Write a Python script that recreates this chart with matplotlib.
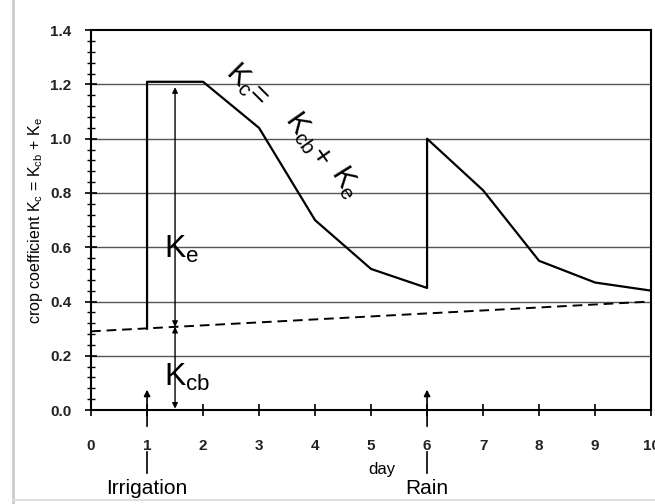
import matplotlib
matplotlib.use("Agg")
import matplotlib.pyplot as plt
import numpy as np

plt.rcParams['font.family'] = ['Liberation Sans', 'DejaVu Sans']

# Kc curve
kc_day = [1, 1, 2, 3, 4, 5, 6, 6, 7, 8, 9, 10]
kc_val = [0.30, 1.21, 1.21, 1.04, 0.70, 0.52, 0.45, 1.00, 0.81, 0.55, 0.47, 0.44]
# Kcb line
kcb_day = [0, 10]
kcb_val = [0.29, 0.40]

xticks = list(range(0, 11))
yticks = [0.0, 0.2, 0.4, 0.6, 0.8, 1.0, 1.2, 1.4]

fig = plt.figure(figsize=(6.55, 5.04), dpi=100)
ax = fig.add_axes([0.139, 0.1865, 0.855, 0.7535])
ax.set_xlim(0, 10)
ax.set_ylim(0, 1.4)

for y in yticks[1:-1]:
    ax.axhline(y, color='#555555', lw=1.0, zorder=1)

ax.plot(kc_day, kc_val, color='black', lw=1.6, zorder=3)
ax.plot(kcb_day, kcb_val, color='black', lw=1.4, ls=(0, (5, 3)), zorder=3)

ax.set_xticks(xticks)
ax.set_yticks(yticks)
ax.set_yticklabels([f"{v:.1f}" for v in yticks])
ax.set_yticks(np.arange(0, 1.41, 0.04), minor=True)
ax.tick_params(axis='both', direction='inout', length=8, width=1.2, labelsize=11)
ax.tick_params(axis='y', which='minor', direction='inout', length=6, width=1.0)
ax.tick_params(axis='x', pad=17)
ax.tick_params(axis='y', pad=10)
for lbl in ax.get_xticklabels() + ax.get_yticklabels():
    lbl.set_fontweight('bold')
    lbl.set_color('#222222')
for s in ax.spines.values():
    s.set_linewidth(1.5)

ax.set_ylabel("crop coefficient K$_\\mathregular{c}$ = K$_\\mathregular{cb}$ + K$_\\mathregular{e}$",
              fontsize=11.5, labelpad=4)

# arrows at x=1.5
kcb15 = 0.29 + 0.011 * 1.5
aprops = dict(arrowstyle='<|-|>', color='black', lw=1.0, mutation_scale=8, shrinkA=0, shrinkB=0)
ax.annotate('', xy=(1.5, 1.19), xytext=(1.5, kcb15), arrowprops=aprops)
ax.annotate('', xy=(1.5, 0.005), xytext=(1.5, kcb15), arrowprops=aprops)

ax.text(1.3, 0.56, "K$_\\mathregular{e}$", fontsize=23)
ax.text(1.3, 0.09, "K$_\\mathregular{cb}$", fontsize=23)

# Kc = Kcb + Ke label
ax.text(2.78, 1.20, "K$_\\mathregular{c}$=", fontsize=21, rotation=-45,
        ha='center', va='center', rotation_mode='anchor')
ax.text(3.88, 1.00, "K$_\\mathregular{cb}$+", fontsize=21, rotation=-55,
        ha='center', va='center', rotation_mode='anchor')
ax.text(4.55, 0.84, "K$_\\mathregular{e}$", fontsize=21, rotation=-58,
        ha='center', va='center', rotation_mode='anchor')

# Irrigation / Rain
for xd, lab in [(1, "Irrigation"), (6, "Rain")]:
    ax.annotate('', xy=(xd, 0.075), xytext=(xd, -0.06),
                arrowprops=dict(arrowstyle='-|>', color='black', lw=1.2,
                                mutation_scale=9, shrinkA=0, shrinkB=0),
                annotation_clip=False)
    ax.plot([xd, xd], [-0.155, -0.232], color='black', lw=1.2, clip_on=False)
    ax.text(xd, -0.29, lab, ha='center', va='center', fontsize=15)

ax.text(5.2, -0.22, "day", ha='center', va='center', fontsize=12)

fig.add_artist(plt.Line2D([0.02, 0.02], [0.0, 1.0], color='#cccccc', lw=2))
fig.add_artist(plt.Line2D([0.02, 1.0], [0.008, 0.008], color='#e0e0e0', lw=1.5))

fig.savefig("out.png", dpi=100)
